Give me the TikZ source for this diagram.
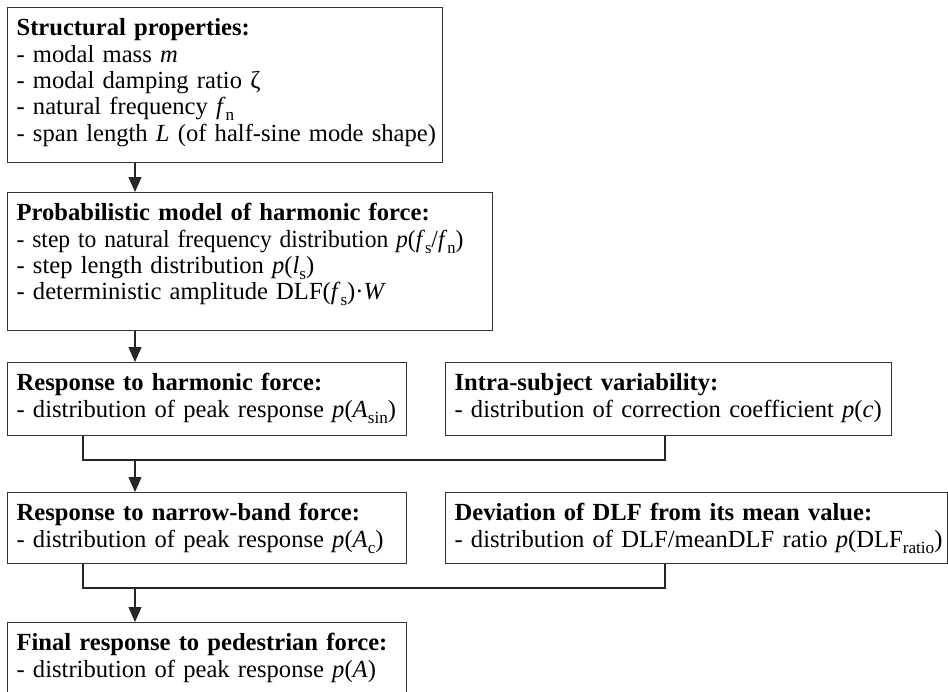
\documentclass[tikz,border=0pt]{standalone}
\usepackage{fontspec}
\usepackage{graphicx}
\setmainfont{Liberation Serif}
\usetikzlibrary{arrows.meta}
\newcommand{\sub}[1]{\raisebox{-0.25em}{\fontsize{8.6}{9}\selectfont #1}}
\newcommand{\var}[1]{\textit{#1}}
\begin{document}
\begin{tikzpicture}[x=0.5pt, y=-0.5pt,
        blk/.style={draw=black!80, line width=0.6pt, anchor=north west, align=left,
            inner xsep=4.5pt, inner ysep=0pt, text height=14pt,
            font=\fontsize{12.3}{13.2}\selectfont},
        arr/.style={draw=black!85, line width=0.6pt, -{Triangle[width=6.5pt,length=7.5pt]}},
        link/.style={draw=black!85, line width=0.6pt}]
        \useasboundingbox (0,0) rectangle (948,691);
        \clip (0,0) rectangle (948,691);

        \node[blk, text width=208.5pt, text depth=63.5pt] (struct) at (7,7)
            {\textbf{Structural properties:}\\- modal mass \var{m}\\- modal damping ratio ζ\\- natural frequency \var{f}\sub{n}\\\mbox{- span length \var{L} (of half-sine mode shape)}};
        \node[blk, text width=233.5pt, text depth=55pt] (probmodel) at (7,192)
            {\textbf{Probabilistic model of harmonic force:}\\\scalebox{0.958}[1]{- step to natural frequency distribution \var{p}(\var{f}\sub{s}/\var{f}\sub{n})}\\- step length distribution \var{p}(\var{l}\sub{s})\\- deterministic amplitude DLF(\var{f}\sub{s})·\var{W}};
        \node[blk, text width=190.5pt, text depth=22.5pt] (harmresp) at (7,362)
            {\textbf{Response to harmonic force:}\\\mbox{- distribution of peak response \var{p}(\var{A}\sub{sin})}};
        \node[blk, text width=214pt, text depth=22.5pt] (intra) at (445,362)
            {\textbf{Intra-subject variability:}\\\mbox{- distribution of correction coefficient \var{p}(\var{c})}};
        \node[blk, text width=190.5pt, text depth=21.5pt] (narrowresp) at (7,492)
            {\textbf{Response to narrow-band force:}\\- distribution of peak response \var{p}(\var{A}\sub{c})};
        \node[blk, text width=242pt, text depth=21.5pt] (dlfdev) at (445,492)
            {\textbf{Deviation of DLF from its mean value:}\\\mbox{- distribution of DLF/meanDLF ratio \var{p}(DLF\sub{ratio})}};
        \node[blk, text width=190.5pt, text depth=44pt] (finalresp) at (7,622)
            {\textbf{Final response to pedestrian force:}\\- distribution of peak response \var{p}(\var{A})};

        \coordinate (j1) at (135,460);
        \coordinate (j2) at (135,588);

        \draw[arr] (135,0 |- struct.south) -- (135,0 |- probmodel.north);
        \draw[arr] (135,0 |- probmodel.south) -- (135,0 |- harmresp.north);
        \draw[link] (83,0 |- harmresp.south) |- (j1) -| (665,0 |- intra.south);
        \draw[arr] (j1) -- (135,0 |- narrowresp.north);
        \draw[link] (83,0 |- narrowresp.south) |- (j2) -| (665,0 |- dlfdev.south);
        \draw[arr] (j2) -- (135,0 |- finalresp.north);

    \end{tikzpicture}
\end{document}
